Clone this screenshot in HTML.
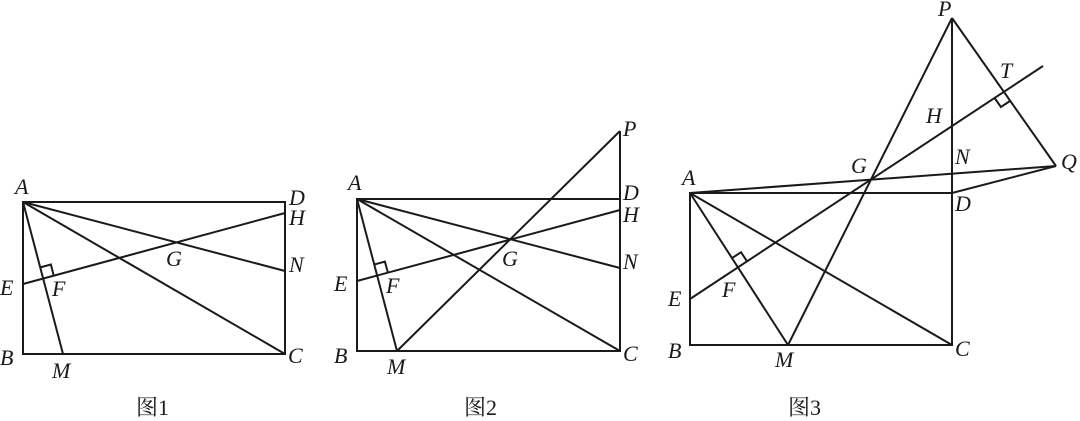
<!DOCTYPE html>
<html><head><meta charset="utf-8"><style>
html,body{margin:0;padding:0;background:#fff;}
svg{display:block;}
text{font-family:"Liberation Serif","Noto Serif CJK SC",serif;font-style:italic;font-size:22px;fill:#1a1a1a;}
text.c{font-style:normal;font-size:22px;}
</style></head><body>
<svg width="1080" height="421" viewBox="0 0 1080 421" xmlns="http://www.w3.org/2000/svg">
<g stroke="#1a1a1a" stroke-width="2" fill="none" stroke-linejoin="miter">
<!-- Fig1 -->
<rect x="23" y="202" width="262" height="152"/>
<line x1="23" y1="202" x2="285" y2="354"/>
<line x1="23" y1="202" x2="285" y2="271"/>
<line x1="23" y1="202" x2="63" y2="354"/>
<line x1="23" y1="284" x2="285" y2="213"/>
<polyline points="40.3,267.4 50.9,264.5 53.6,275.2"/>
<!-- Fig2 -->
<rect x="357" y="199" width="263" height="152"/>
<line x1="620" y1="131" x2="620" y2="199"/>
<line x1="357" y1="199" x2="620" y2="351"/>
<line x1="357" y1="199" x2="620" y2="268"/>
<line x1="357" y1="199" x2="397" y2="351"/>
<line x1="357" y1="281" x2="620" y2="210"/>
<line x1="397" y1="351" x2="620" y2="131"/>
<polyline points="374.3,264.5 384.9,261.6 387.8,272.3"/>
<!-- Fig3 -->
<rect x="690" y="193" width="262" height="152"/>
<line x1="952" y1="18" x2="952" y2="193"/>
<line x1="690" y1="193" x2="952" y2="345"/>
<line x1="690" y1="193" x2="788" y2="345"/>
<line x1="788" y1="345" x2="952" y2="18"/>
<line x1="952" y1="18" x2="1056" y2="166"/>
<line x1="690" y1="193" x2="1056" y2="166"/>
<line x1="952" y1="193" x2="1056" y2="166"/>
<line x1="690" y1="299" x2="1043" y2="66"/>
<polyline points="731.9,258.2 741,252.2 747.1,261.4"/>
<polyline points="994.6,98 1000.9,107 1010,101"/>
</g>
<!-- Fig1 labels -->
<text x="15" y="194">A</text>
<text x="289" y="205">D</text>
<text x="289" y="225">H</text>
<text x="289" y="272">N</text>
<text x="166" y="266">G</text>
<text x="0" y="295">E</text>
<text x="52" y="296">F</text>
<text x="0" y="365">B</text>
<text x="52" y="378">M</text>
<text x="288" y="363">C</text>
<text class="c" x="136" y="415">图1</text>
<!-- Fig2 labels -->
<text x="348" y="190">A</text>
<text x="623" y="200">D</text>
<text x="623" y="222">H</text>
<text x="623" y="269">N</text>
<text x="623" y="136">P</text>
<text x="502" y="266">G</text>
<text x="334" y="291">E</text>
<text x="386" y="293">F</text>
<text x="334" y="363">B</text>
<text x="387" y="374">M</text>
<text x="623" y="361">C</text>
<text class="c" x="464" y="415">图2</text>
<!-- Fig3 labels -->
<text x="682" y="185">A</text>
<text x="955" y="211">D</text>
<text x="955" y="164">N</text>
<text x="926" y="123">H</text>
<text x="938" y="16">P</text>
<text x="1000" y="78">T</text>
<text x="1061" y="169">Q</text>
<text x="851" y="173">G</text>
<text x="668" y="306">E</text>
<text x="722" y="297">F</text>
<text x="668" y="358">B</text>
<text x="775" y="367">M</text>
<text x="955" y="356">C</text>
<text class="c" x="788" y="415">图3</text>
</svg>
</body></html>
